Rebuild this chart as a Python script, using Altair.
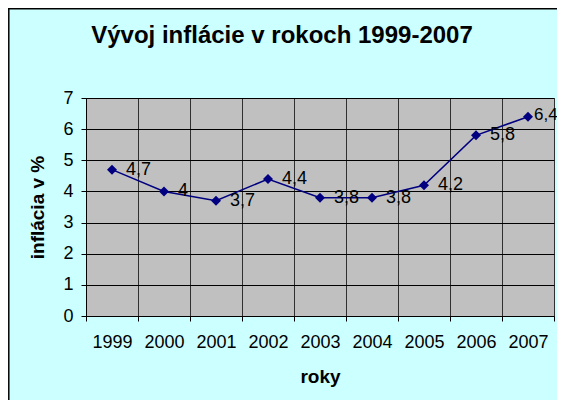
import altair as alt
import pandas as pd

title_text = "Vývoj inflácie v rokoch 1999-2007"
years = ["1999", "2000", "2001", "2002", "2003", "2004", "2005", "2006", "2007"]
values = [4.7, 4.0, 3.7, 4.4, 3.8, 3.8, 4.2, 5.8, 6.4]
labels = ["4,7", "4", "3,7", "4,4", "3,8", "3,8", "4,2", "5,8", "6,4"]
y_ticks = [0, 1, 2, 3, 4, 5, 6, 7]

df = pd.DataFrame({"rok": years, "inflacia": values, "label": labels})

W, H = 468, 218
FONT = "Liberation Sans"

x_enc = alt.X(
    "rok:O",
    title="roky",
    scale=alt.Scale(paddingInner=0, paddingOuter=0),
    axis=alt.Axis(
        labelAngle=0,
        tickBand="extent",
        grid=True,
        gridColor="#303030",
        gridOpacity=1,
        domainColor="#000000",
        tickColor="#000000",
        tickSize=5,
        labelFontSize=18,
        labelColor="#000000",
        labelPadding=12,
        titleFontSize=19,
        titleFontWeight="bold",
        titleColor="#000000",
        titlePadding=16,
    ),
)
y_enc = alt.Y(
    "inflacia:Q",
    title="inflácia v %",
    scale=alt.Scale(domain=[0, 7], nice=False, zero=True),
    axis=alt.Axis(
        values=y_ticks,
        grid=True,
        gridColor="#000000",
        gridOpacity=1,
        domainColor="#000000",
        tickColor="#000000",
        tickSize=5,
        labelFontSize=18,
        labelColor="#000000",
        labelPadding=8,
        labelOverlap=False,
        titleFontSize=19,
        titleFontWeight="bold",
        titleColor="#000000",
        titlePadding=15,
    ),
)

base = alt.Chart(df).encode(x=x_enc, y=y_enc)
line = base.mark_line(color="#000080", strokeWidth=1.5)
pts = base.mark_point(shape="diamond", filled=True, color="#000080", size=100, opacity=1)
txt = base.transform_filter(alt.datum.rok != "2007").mark_text(
    align="left", baseline="middle", dx=14, fontSize=18, font=FONT, color="#000000"
).encode(text="label:N")
txt_last = base.transform_filter(alt.datum.rok == "2007").mark_text(
    align="left", baseline="middle", dx=6, dy=-2, fontSize=17, font=FONT, color="#000000"
).encode(text="label:N")
ttl = alt.Chart(pd.DataFrame({"t": [title_text]})).mark_text(
    fontSize=24, fontWeight="bold", font=FONT, color="#000000", align="center", baseline="alphabetic"
).encode(x=alt.value(196), y=alt.value(-55), text="t:N")
frame = pd.DataFrame({"a": [0]})
border_left = alt.Chart(frame).mark_rule(color="#000000", strokeWidth=1.5).encode(
    x=alt.value(-77.2), y=alt.value(-90), y2=alt.value(H + 84)
)
border_top = alt.Chart(frame).mark_rule(color="#000000", strokeWidth=1.5).encode(
    x=alt.value(-78), x2=alt.value(W + 3), y=alt.value(-89.2)
)

chart = (
    alt.layer(border_left, border_top, line, pts, txt, txt_last, ttl)
    .properties(
        width=W,
        height=H,
        background="#CCFFFF",
        padding={"left": 78, "top": 90, "right": 3, "bottom": 84},
        autosize=alt.AutoSizeParams(type="none"),
    )
    .configure(font=FONT)
    .configure_view(fill="#C0C0C0", stroke="#808080", strokeWidth=1)
    .configure_axis(labelFont=FONT, titleFont=FONT)
)

chart.save("out.html", embed_options={"renderer": "svg", "actions": False})
